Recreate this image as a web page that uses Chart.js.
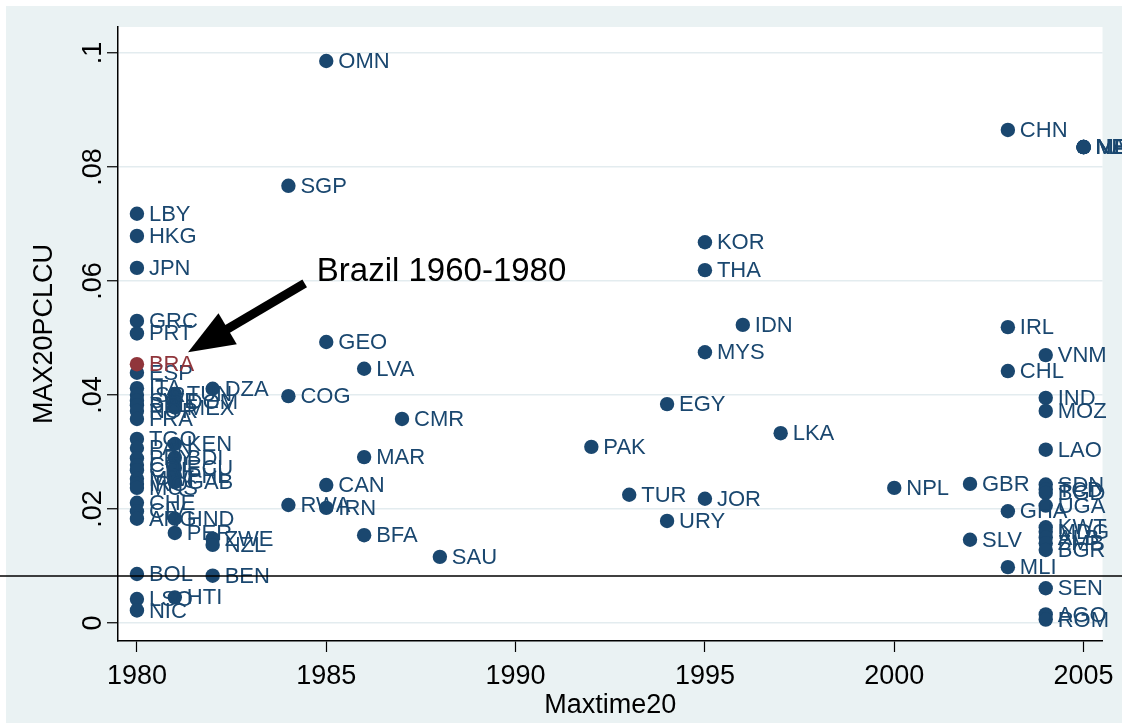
<!DOCTYPE html>
<html>
<head>
<meta charset="utf-8">
<script src="https://cdn.jsdelivr.net/npm/chart.js@4.4.1/dist/chart.umd.min.js"></script>
<style>
  body { margin: 0; background: #fff; }
  canvas { display: block; }
</style>
</head>
<body>
<canvas id="chart" width="1122" height="723"></canvas>
<script>
// ======== data ========
const codes = [
  'LBY','HKG','JPN','GRC','PRT','ESP','ITA','ISR','SWE','BEL','NOR','FRA',
  'TGO','PAN','PRY','COL','CRI','MWI','IRQ','MUS','CHE','CIV','ARG','BOL','LSO','NIC',
  'TUN','DOM','MEX','KEN','BDI','ECU','PHL','GAB','HND','PER','HTI',
  'DZA','ZWE','NZL','BEN',
  'SGP','COG','RWA',
  'OMN','GEO','CAN','IRN',
  'LVA','MAR','BFA',
  'CMR','SAU','PAK','TUR','EGY','URY',
  'KOR','THA','MYS','JOR','IDN','LKA','NPL','GBR','SLV',
  'CHN','IRL','CHL','GHA','MLI',
  'VNM','IND','MOZ','LAO','SDN','TCD','BGD','UGA','KWT','MDG','ALB','ZMB','BGR','SEN','AGO','ROM',
  'NER','NAM','NLD','MRT','MDA'
];
const years = [
  1980,1980,1980,1980,1980,1980,1980,1980,1980,1980,1980,1980,
  1980,1980,1980,1980,1980,1980,1980,1980,1980,1980,1980,1980,1980,1980,
  1981,1981,1981,1981,1981,1981,1981,1981,1981,1981,1981,
  1982,1982,1982,1982,
  1984,1984,1984,
  1985,1985,1985,1985,
  1986,1986,1986,
  1987,1988,1992,1993,1994,1994,
  1995,1995,1995,1995,1996,1997,2000,2002,2002,
  2003,2003,2003,2003,2003,
  2004,2004,2004,2004,2004,2004,2004,2004,2004,2004,2004,2004,2004,2004,2004,2004,
  2005,2005,2005,2005,2005
];
const values = [
  0.0718,0.0679,0.0623,0.0530,0.0508,0.0439,0.0412,0.0400,0.0390,0.0382,0.0372,0.0358,
  0.0323,0.0307,0.0289,0.0277,0.0268,0.0253,0.0244,0.0237,0.0211,0.0196,0.0183,0.0086,0.0042,0.0022,
  0.0402,0.0388,0.0378,0.0314,0.0290,0.0272,0.0258,0.0247,0.0183,0.0158,0.0045,
  0.0411,0.0148,0.0137,0.0083,
  0.0767,0.0398,0.0207,
  0.0986,0.0493,0.0242,0.0202,
  0.0446,0.0291,0.0154,
  0.0358,0.0116,0.0309,0.0225,0.0384,0.0179,
  0.0668,0.0619,0.0475,0.0218,0.0523,0.0333,0.0237,0.0244,0.0146,
  0.0865,0.0519,0.0442,0.0196,0.0098,
  0.0470,0.0395,0.0372,0.0304,0.0243,0.0234,0.0228,0.0206,0.0168,0.0160,0.0150,0.0140,0.0128,0.0061,0.0015,0.0006,
  0.0835,0.0835,0.0835,0.0835,0.0835
];

// Brazil, highlighted
const braCodes = ['BRA'];
const braYears = [1980];
const braValues = [0.0454];

// axes
const xTicks = [1980, 1985, 1990, 1995, 2000, 2005];
const yTicks = [0, 0.02, 0.04, 0.06, 0.08, 0.1];
const yTickLabels = ['0', '.02', '.04', '.06', '.08', '.1'];
const xRange = [1979.5, 2005.5];
const yRange = [-0.00316, 0.10456];

// reference line and annotation (data coordinates)
const refLine = 0.00825;
const noteText = 'Brazil 1960-1980';
const notePos = [1984.75, 0.0600];
const arrowFrom = [1984.43, 0.0596];
const arrowTo = [1981.35, 0.0475];

const navy = '#1a476f';
const maroon = '#90353b';
const font = '"Liberation Sans", Arial, sans-serif';

// ======== plugin: background, labels, line, arrow ========
const stataLook = {
    id: 'stataLook',
    beforeDraw(chart) {
        const ctx = chart.ctx;
        const a = chart.chartArea;
        ctx.save();
        ctx.fillStyle = '#ffffff';
        ctx.fillRect(0, 0, chart.width, chart.height);
        ctx.fillStyle = '#eaf2f3';
        ctx.fillRect(6, 6, chart.width - 6, chart.height - 6);
        ctx.fillStyle = '#ffffff';
        ctx.fillRect(a.left, a.top, a.right - a.left, a.bottom - a.top);
        ctx.restore();
    },
    afterDatasetsDraw(chart) {
        const ctx = chart.ctx;
        const xs = chart.scales.x;
        const ys = chart.scales.y;
        ctx.save();

        // marker labels, to the right of each point
        ctx.font = '22px ' + font;
        ctx.textBaseline = 'middle';
        ctx.textAlign = 'left';
        [1, 0].forEach(di => {
            const meta = chart.getDatasetMeta(di);
            const labels = chart.data.datasets[di].labels;
            ctx.fillStyle = chart.data.datasets[di].backgroundColor;
            meta.data.forEach((el, i) => {
                ctx.fillText(labels[i], el.x + 12, el.y + 1);
            });
        });

        // horizontal reference line across the whole graph
        const ly = ys.getPixelForValue(refLine);
        ctx.strokeStyle = '#000';
        ctx.lineWidth = 1.5;
        ctx.beginPath();
        ctx.moveTo(0, ly);
        ctx.lineTo(chart.width, ly);
        ctx.stroke();

        // arrow
        const x1 = xs.getPixelForValue(arrowFrom[0]);
        const y1 = ys.getPixelForValue(arrowFrom[1]);
        const x2 = xs.getPixelForValue(arrowTo[0]);
        const y2 = ys.getPixelForValue(arrowTo[1]);
        const ang = Math.atan2(y2 - y1, x2 - x1);
        const headLen = 46, headHalf = 18;
        const bx = x2 - headLen * Math.cos(ang);
        const by = y2 - headLen * Math.sin(ang);
        ctx.lineWidth = 9;
        ctx.lineCap = 'butt';
        ctx.beginPath();
        ctx.moveTo(x1, y1);
        ctx.lineTo(bx + 2 * Math.cos(ang), by + 2 * Math.sin(ang));
        ctx.stroke();
        ctx.fillStyle = '#000';
        ctx.beginPath();
        ctx.moveTo(x2, y2);
        ctx.lineTo(bx + headHalf * Math.sin(ang), by - headHalf * Math.cos(ang));
        ctx.lineTo(bx - headHalf * Math.sin(ang), by + headHalf * Math.cos(ang));
        ctx.closePath();
        ctx.fill();

        // annotation text
        ctx.font = '33px ' + font;
        ctx.textBaseline = 'alphabetic';
        ctx.fillText(noteText, xs.getPixelForValue(notePos[0]), ys.getPixelForValue(notePos[1]));
        ctx.restore();
    },
    afterDraw(chart) {
        const ctx = chart.ctx;
        const a = chart.chartArea;
        const ys = chart.scales.y;
        ctx.save();
        ctx.fillStyle = '#000';
        ctx.textAlign = 'center';
        ctx.textBaseline = 'alphabetic';

        // vertical y tick labels
        ctx.font = '27px ' + font;
        yTicks.forEach((v, i) => {
            ctx.save();
            ctx.translate(101, ys.getPixelForValue(v));
            ctx.rotate(-Math.PI / 2);
            ctx.fillText(yTickLabels[i], 0, 0);
            ctx.restore();
        });

        // axis titles
        ctx.save();
        ctx.translate(52, (a.top + a.bottom) / 2);
        ctx.rotate(-Math.PI / 2);
        ctx.fillText('MAX20PCLCU', 0, 0);
        ctx.restore();
        ctx.fillText('Maxtime20', (a.left + a.right) / 2, 713);
        ctx.restore();
    }
};

new Chart(document.getElementById('chart'), {
    type: 'scatter',
    data: {
        datasets: [{
            labels: braCodes,
            data: braYears.map((y, i) => ({ x: y, y: braValues[i] })),
            backgroundColor: maroon,
            pointRadius: 7.2,
            borderWidth: 0
        }, {
            labels: codes,
            data: years.map((y, i) => ({ x: y, y: values[i] })),
            backgroundColor: navy,
            pointRadius: 7.2,
            borderWidth: 0
        }]
    },
    options: {
        responsive: false,
        devicePixelRatio: 1,
        animation: false,
        clip: false,
        layout: { padding: { left: 0, top: 27, right: 19, bottom: 0 } },
        plugins: {
            legend: { display: false },
            tooltip: { enabled: false }
        },
        scales: {
            x: {
                type: 'linear',
                min: xRange[0],
                max: xRange[1],
                afterBuildTicks: s => { s.ticks = xTicks.map(v => ({ value: v })); },
                afterFit: s => { s.height = 82; },
                ticks: {
                    color: '#000',
                    padding: 8,
                    maxRotation: 0,
                    font: { family: font, size: 27 },
                    callback: v => String(v)
                },
                grid: { drawOnChartArea: false, tickLength: 11, tickColor: '#000', tickWidth: 1.2 },
                border: { display: true, color: '#000', width: 1.5 }
            },
            y: {
                type: 'linear',
                min: yRange[0],
                max: yRange[1],
                afterBuildTicks: s => { s.ticks = yTicks.map(v => ({ value: v })); },
                afterFit: s => { s.width = 118; },
                ticks: { display: false },
                grid: { color: '#e3ecef', lineWidth: 1.5, tickLength: 11, tickColor: '#000', tickWidth: 1.2 },
                border: { display: true, color: '#000', width: 1.5 }
            }
        }
    },
    plugins: [stataLook]
});
</script>
</body>
</html>
